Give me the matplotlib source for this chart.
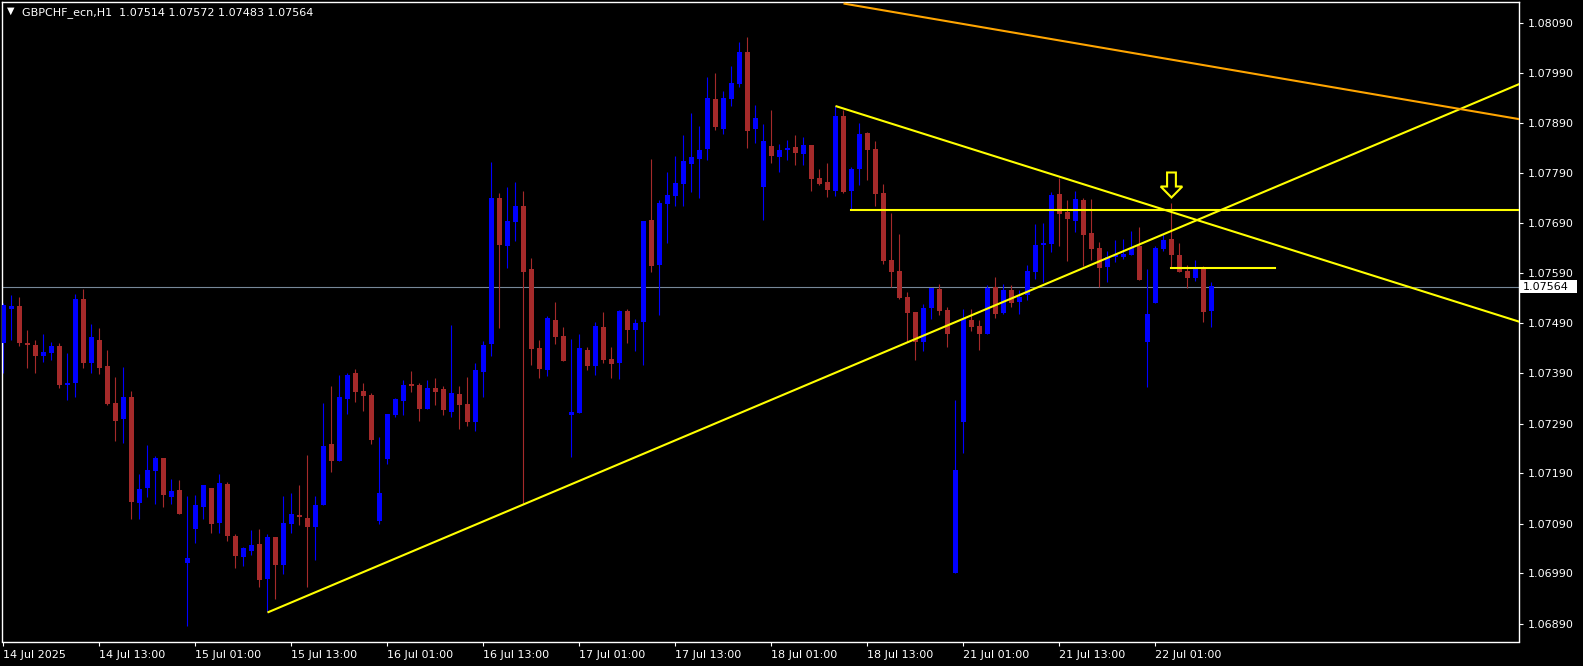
import matplotlib
matplotlib.use("Agg")
import matplotlib.pyplot as plt
from matplotlib.patches import Polygon, Rectangle
from matplotlib.transforms import blended_transform_factory
import numpy as np

# GBPCHF H1 candles, 14 Jul 01:00 .. 22 Jul 07:00
opens = [
    1.07450, 1.07518, 1.07525, 1.07451, 1.07447, 1.07424, 1.07431, 1.07445, 1.07366, 1.07371,
    1.07539, 1.07411, 1.07457, 1.07405, 1.07331, 1.07298, 1.07342, 1.07131, 1.07160, 1.07195,
    1.07221, 1.07144, 1.07157, 1.07012, 1.07078, 1.07123, 1.07161, 1.07091, 1.07169, 1.07065,
    1.07023, 1.07036, 1.07049, 1.06979, 1.07063, 1.07007, 1.07090, 1.07107, 1.07101, 1.07083,
    1.07127, 1.07249, 1.07215, 1.07339, 1.07391, 1.07355, 1.07347, 1.07095, 1.07219, 1.07307,
    1.07335, 1.07369, 1.07367, 1.07319, 1.07361, 1.07359, 1.07313, 1.07349, 1.07329, 1.07293,
    1.07393, 1.07449, 1.07741, 1.07645, 1.07693, 1.07725, 1.07599, 1.07441, 1.07397, 1.07497,
    1.07465, 1.07307, 1.07311, 1.07437, 1.07405, 1.07483, 1.07419, 1.07411, 1.07515, 1.07477,
    1.07493, 1.07697, 1.07607, 1.07729, 1.07745, 1.07769, 1.07809, 1.07819, 1.07839, 1.07939,
    1.07879, 1.07939, 1.07969, 1.08033, 1.07879, 1.07763, 1.07845, 1.07823, 1.07837, 1.07843,
    1.07829, 1.07847, 1.07781, 1.07773, 1.07755, 1.07905, 1.07755, 1.07799, 1.07871, 1.07839,
    1.07751, 1.07617, 1.07595, 1.07543, 1.07513, 1.07453, 1.07521, 1.07559, 1.07517, 1.06991,
    1.07293, 1.07497, 1.07485, 1.07469, 1.07563, 1.07511, 1.07557, 1.07533, 1.07547, 1.07593,
    1.07647, 1.07649, 1.07749, 1.07713, 1.07695, 1.07737, 1.07671, 1.07641, 1.07603, 1.07623,
    1.07623, 1.07627, 1.07645, 1.07453, 1.07531, 1.07639, 1.07659, 1.07627, 1.07595, 1.07581,
    1.07601, 1.07514,
]
highs = [
    1.07531, 1.07547, 1.07542, 1.07477, 1.07456, 1.07469, 1.07453, 1.07450, 1.07430, 1.07549,
    1.07559, 1.07489, 1.07481, 1.07437, 1.07382, 1.07402, 1.07355, 1.07189, 1.07247, 1.07224,
    1.07221, 1.07179, 1.07176, 1.07145, 1.07146, 1.07167, 1.07161, 1.07189, 1.07173, 1.07069,
    1.07043, 1.07077, 1.07079, 1.07069, 1.07063, 1.07145, 1.07151, 1.07167, 1.07227, 1.07145,
    1.07331, 1.07365, 1.07387, 1.07391, 1.07399, 1.07371, 1.07351, 1.07263, 1.07309, 1.07341,
    1.07377, 1.07395, 1.07371, 1.07377, 1.07381, 1.07365, 1.07487, 1.07365, 1.07383, 1.07411,
    1.07455, 1.07813, 1.07751, 1.07763, 1.07773, 1.07755, 1.07621, 1.07457, 1.07505, 1.07533,
    1.07483, 1.07459, 1.07469, 1.07443, 1.07493, 1.07513, 1.07443, 1.07517, 1.07519, 1.07499,
    1.07695, 1.07819, 1.07737, 1.07793, 1.07825, 1.07867, 1.07911, 1.07885, 1.07983, 1.07991,
    1.07955, 1.08005, 1.08053, 1.08063, 1.07927, 1.07889, 1.07917, 1.07849, 1.07857, 1.07867,
    1.07863, 1.07847, 1.07799, 1.07811, 1.07925, 1.07917, 1.07803, 1.07891, 1.07873, 1.07855,
    1.07769, 1.07711, 1.07669, 1.07553, 1.07513, 1.07529, 1.07561, 1.07569, 1.07523, 1.07337,
    1.07519, 1.07519, 1.07497, 1.07567, 1.07583, 1.07569, 1.07567, 1.07557, 1.07607, 1.07689,
    1.07691, 1.07753, 1.07781, 1.07737, 1.07755, 1.07741, 1.07739, 1.07653, 1.07635, 1.07657,
    1.07659, 1.07675, 1.07683, 1.07599, 1.07645, 1.07669, 1.07731, 1.07651, 1.07607, 1.07617,
    1.07605, 1.07572,
]
lows = [
    1.07390, 1.07457, 1.07444, 1.07401, 1.07391, 1.07412, 1.07416, 1.07360, 1.07336, 1.07344,
    1.07400, 1.07391, 1.07389, 1.07327, 1.07256, 1.07252, 1.07098, 1.07099, 1.07142, 1.07130,
    1.07124, 1.07128, 1.07110, 1.06884, 1.07050, 1.07099, 1.07072, 1.07071, 1.07054, 1.07002,
    1.07004, 1.07026, 1.06964, 1.06912, 1.06938, 1.06989, 1.07071, 1.07087, 1.06964, 1.07018,
    1.07127, 1.07194, 1.07215, 1.07310, 1.07332, 1.07316, 1.07249, 1.07090, 1.07209, 1.07303,
    1.07307, 1.07353, 1.07295, 1.07319, 1.07327, 1.07307, 1.07303, 1.07279, 1.07285, 1.07275,
    1.07343, 1.07425, 1.07481, 1.07601, 1.07655, 1.07129, 1.07407, 1.07381, 1.07385, 1.07449,
    1.07415, 1.07223, 1.07311, 1.07397, 1.07387, 1.07411, 1.07381, 1.07379, 1.07451, 1.07435,
    1.07407, 1.07593, 1.07507, 1.07651, 1.07725, 1.07725, 1.07753, 1.07741, 1.07817, 1.07877,
    1.07869, 1.07925, 1.07963, 1.07841, 1.07851, 1.07697, 1.07811, 1.07793, 1.07817, 1.07807,
    1.07807, 1.07755, 1.07767, 1.07743, 1.07745, 1.07751, 1.07717, 1.07767, 1.07777, 1.07725,
    1.07609, 1.07563, 1.07539, 1.07453, 1.07417, 1.07435, 1.07499, 1.07507, 1.07443, 1.06991,
    1.07231, 1.07475, 1.07437, 1.07469, 1.07501, 1.07509, 1.07523, 1.07509, 1.07537, 1.07579,
    1.07573, 1.07633, 1.07645, 1.07615, 1.07673, 1.07605, 1.07617, 1.07563, 1.07573, 1.07613,
    1.07619, 1.07627, 1.07577, 1.07363, 1.07531, 1.07635, 1.07601, 1.07593, 1.07561, 1.07575,
    1.07493, 1.07483,
]
closes = [
    1.07527, 1.07525, 1.07450, 1.07446, 1.07424, 1.07433, 1.07445, 1.07367, 1.07371, 1.07539,
    1.07410, 1.07463, 1.07400, 1.07329, 1.07296, 1.07342, 1.07134, 1.07159, 1.07197, 1.07222,
    1.07146, 1.07155, 1.07110, 1.07021, 1.07127, 1.07167, 1.07090, 1.07171, 1.07064, 1.07024,
    1.07041, 1.07047, 1.06978, 1.07063, 1.07007, 1.07091, 1.07109, 1.07102, 1.07082, 1.07127,
    1.07245, 1.07215, 1.07343, 1.07387, 1.07353, 1.07345, 1.07257, 1.07151, 1.07309, 1.07339,
    1.07367, 1.07365, 1.07319, 1.07361, 1.07353, 1.07317, 1.07351, 1.07327, 1.07293, 1.07397,
    1.07447, 1.07741, 1.07647, 1.07695, 1.07725, 1.07593, 1.07439, 1.07399, 1.07501, 1.07463,
    1.07415, 1.07313, 1.07441, 1.07405, 1.07485, 1.07417, 1.07409, 1.07515, 1.07477, 1.07491,
    1.07695, 1.07605, 1.07731, 1.07747, 1.07771, 1.07815, 1.07823, 1.07837, 1.07941, 1.07883,
    1.07941, 1.07971, 1.08033, 1.07875, 1.07901, 1.07855, 1.07825, 1.07837, 1.07841, 1.07831,
    1.07847, 1.07779, 1.07769, 1.07757, 1.07905, 1.07753, 1.07799, 1.07869, 1.07837, 1.07749,
    1.07615, 1.07593, 1.07541, 1.07511, 1.07453, 1.07521, 1.07561, 1.07515, 1.07469, 1.07197,
    1.07499, 1.07483, 1.07469, 1.07561, 1.07509, 1.07557, 1.07531, 1.07543, 1.07595, 1.07647,
    1.07651, 1.07747, 1.07709, 1.07699, 1.07739, 1.07667, 1.07639, 1.07601, 1.07623, 1.07627,
    1.07629, 1.07641, 1.07577, 1.07509, 1.07641, 1.07657, 1.07627, 1.07593, 1.07581, 1.07599,
    1.07513, 1.07564,
]

time_labels = ["14 Jul 2025", "14 Jul 13:00", "15 Jul 01:00", "15 Jul 13:00", "16 Jul 01:00",
               "16 Jul 13:00", "17 Jul 01:00", "17 Jul 13:00", "18 Jul 01:00", "18 Jul 13:00",
               "21 Jul 01:00", "21 Jul 13:00", "22 Jul 01:00"]
price_ticks = [1.06890, 1.06990, 1.07090, 1.07190, 1.07290, 1.07390, 1.07490,
               1.07590, 1.07690, 1.07790, 1.07890, 1.07990, 1.08090]

# hand-drawn objects (bar index, price)
support_pts = ([33, 143], [1.06912, 1.07655])
resistance_pts = ([104, 146], [1.07925, 1.07713])
orange_pts = ([105, 189], [1.08130, 1.07900])
level_high = (106, 1.07717)
level_low = (146, 159, 1.07601)
arrow_bar, arrow_tip = 146, 1.07742

W, H = 1583, 666
bull, bear = "#0000FF", "#A52A2A"

fig = plt.figure(figsize=(W / 100, H / 100), dpi=100, facecolor="black")
ax = fig.add_axes([1.5 / W, 24.5 / H, (1519 - 1.5) / W, (641.5 - 2.3) / H])
ax.set_facecolor("black")

x = np.arange(len(opens))
o, h, l, c = map(np.array, (opens, highs, lows, closes))
colors = [bull if cc >= oo else bear for oo, cc in zip(o, c)]

# last price line (behind candles)
ax.axhline(closes[-1], color="#778899", lw=0.8, zorder=1)

ax.vlines(x, l, h, colors=colors, lw=0.8, zorder=2)
body_h = np.maximum(np.abs(c - o), 0.00002)
ax.bar(x, body_h, bottom=np.minimum(o, c), width=0.62, color=colors, linewidth=0, zorder=3)

x_end = 200


def ray(pts, color):
    (x0, x1), (y0, y1) = pts
    k = (y1 - y0) / (x1 - x0)
    ax.plot([x0, x_end], [y0, y0 + k * (x_end - x0)], color=color, lw=1.5, zorder=4,
            solid_capstyle="butt")


ray(support_pts, "#FFFF00")
ray(resistance_pts, "#FFFF00")
ray(orange_pts, "#FFA500")
ax.plot([level_high[0], x_end], [level_high[1]] * 2, color="#FFFF00", lw=1.5, zorder=4)
ax.plot([level_low[0], level_low[1]], [level_low[2]] * 2, color="#FFFF00", lw=1.5, zorder=4)

# hollow down arrow above the signal bar
b = arrow_bar
neck = arrow_tip + 0.00022
top = arrow_tip + 0.00050
arrow = Polygon([(b - 0.55, top), (b + 0.55, top), (b + 0.55, neck), (b + 1.35, neck),
                 (b, arrow_tip), (b - 1.35, neck), (b - 0.55, neck)],
                closed=True, fc="black", ec="#FFFF00", lw=1.5, zorder=5)
ax.add_patch(arrow)

ax.set_xlim(-0.25, 189.44)
ax.set_ylim(1.06854, 1.081324)

for s in ax.spines.values():
    s.set_color("white")
    s.set_linewidth(1.0)

ax.yaxis.tick_right()
ax.set_yticks(price_ticks)
ax.set_yticklabels([f"{p:.5f}" for p in price_ticks])
ax.tick_params(axis="y", colors="white", length=3, width=0.8, pad=3, labelsize=8)

ax.set_xticks(np.arange(len(time_labels)) * 12)
ax.set_xticklabels(time_labels)
ax.tick_params(axis="x", colors="white", length=3, width=0.8, pad=3, labelsize=8)
for lbl in ax.get_xticklabels():
    lbl.set_ha("left")

# current price tag
tr = blended_transform_factory(fig.transFigure, ax.transData)
ax.add_patch(Rectangle((1520 / W, closes[-1] - 0.00013), 57 / W, 0.00026, transform=tr,
                       fc="white", ec="none", clip_on=False, zorder=6))
ax.text(1523 / W, closes[-1], f"{closes[-1]:.5f}", transform=tr, ha="left", va="center",
        fontsize=8, color="black", clip_on=False, zorder=7)

# header
fig.text(11 / W, 1 - 11 / H, "\u25bc", ha="center", va="center", fontsize=7, color="white")
fig.text(22 / W, 1 - 13 / H,
         f"GBPCHF_ecn,H1  {opens[-1]:.5f} {highs[-1]:.5f} {lows[-1]:.5f} {closes[-1]:.5f}",
         ha="left", va="center", fontsize=8, color="white")

fig.savefig("out.png", dpi=100, facecolor="black")
